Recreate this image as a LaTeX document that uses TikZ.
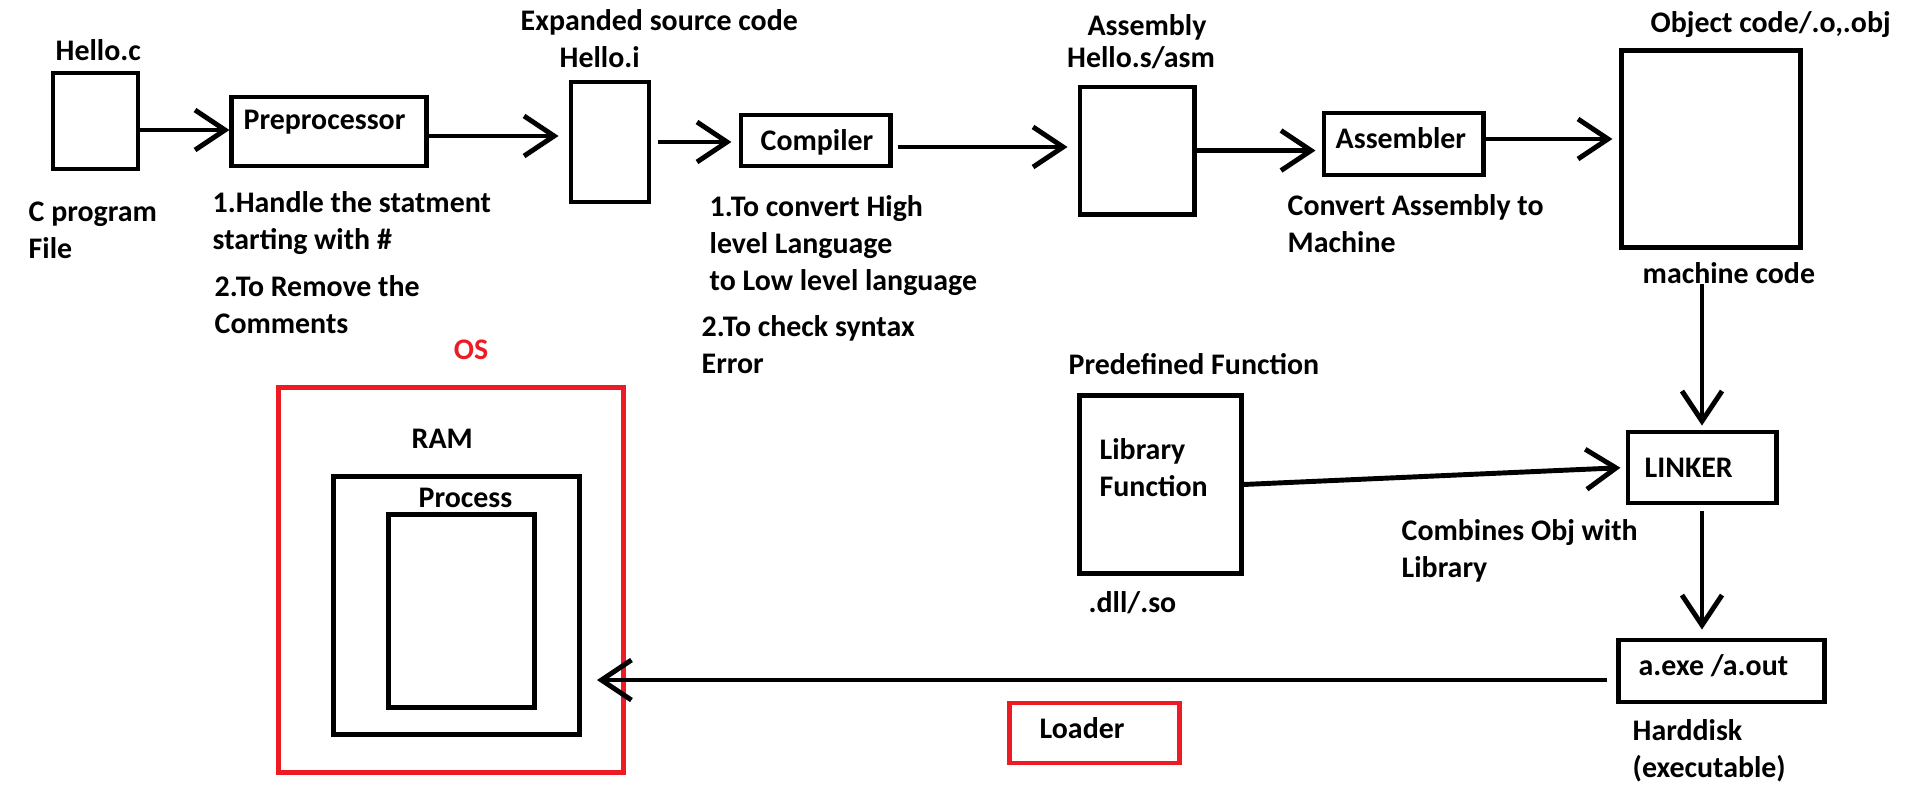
\documentclass[tikz,border=0pt]{standalone}
\usepackage{fontspec}
\setmainfont{Carlito}
\usetikzlibrary{arrows.meta}
\definecolor{paintred}{RGB}{237,28,36}

\begin{document}
\begin{tikzpicture}[x=0.01cm,y=-0.01cm,
    box/.style={draw,line width=1.4pt,inner sep=0pt},
    redbox/.style={box,draw=paintred},
    txt/.style={font=\fontsize{8.5}{10.5}\selectfont\bfseries,inner sep=0pt,anchor=west,align=left},
    arr/.style={line width=1.4pt,-{Straight Barb[length=3mm,width=4mm]}}]
  \useasboundingbox (0,0) rectangle (1914,809);
  % boxes
  \node[box,minimum width=0.85cm,minimum height=0.96cm] (hc) at (95.5,121) {};
  \node[box,minimum width=1.94cm,minimum height=0.69cm] (pre) at (329,131.5) {};
  \node[box,minimum width=0.78cm,minimum height=1.20cm] (hi) at (610,142) {};
  \node[box,minimum width=1.49cm,minimum height=0.51cm] (comp) at (815.5,140.5) {};
  \node[box,minimum width=1.14cm,minimum height=1.27cm] (asm) at (1137,150.5) {};
  \node[box,minimum width=1.59cm,minimum height=0.62cm] (asmr) at (1403.5,144) {};
  \node[box,minimum width=1.78cm,minimum height=1.96cm] (obj) at (1711,149) {};
  \node[redbox,minimum width=3.44cm,minimum height=3.84cm] (os) at (451,580) {};
  \node[box,minimum width=2.45cm,minimum height=2.57cm] (ram) at (456.5,605.5) {};
  \node[box,minimum width=1.45cm,minimum height=1.92cm] (proc) at (461.5,611) {};
  \node[box,minimum width=1.61cm,minimum height=1.77cm] (lib) at (1160.5,484.5) {};
  \node[box,minimum width=1.48cm,minimum height=0.71cm] (lnk) at (1702,467.5) {};
  \node[box,minimum width=2.05cm,minimum height=0.62cm] (exe) at (1721.5,671) {};
  \node[redbox,minimum width=1.69cm,minimum height=0.60cm] (ldr) at (1094.5,733) {};
  % texts
  \node[txt] (hcname) at (55,50) {Hello.c};
  \node[txt] (hcnote) at (28,230) {C program\\File};
  \node[txt] (pretext) at (243,122) {Preprocessor};
  \node[txt] (prenote1) at (212,223) {1.Handle the statment\\starting with \#};
  \node[txt] (prenote2) at (214,305) {2.To Remove the\\Comments};
  \node[txt] (hiname1) at (520,22) {Expanded source code};
  \node[txt] (hiname2) at (559,57) {Hello.i};
  \node[txt] (comptext) at (760,142) {Compiler};
  \node[txt] (compnote1) at (709,245.5) {1.To convert High\\level Language\\to Low level language};
  \node[txt] (compnote2) at (701,345) {2.To check syntax\\Error};
  \node[txt,anchor=center] (asmname1) at (1147,27) {Assembly};
  \node[txt,anchor=center] (asmname2) at (1141,58) {Hello.s/asm};
  \node[txt] (asmrtext) at (1335,138) {Assembler};
  \node[txt] (asmrnote) at (1287,223.5) {Convert Assembly to\\Machine};
  \node[txt] (objname) at (1650,25) {Object code/.o,.obj};
  \node[txt] (mc) at (1642,273) {machine code};
  \node[txt,anchor=center,text=paintred] (osname) at (471,350) {OS};
  \node[txt] (ramname) at (411,439) {RAM};
  \node[txt] (procname) at (418,498) {Process};
  \node[txt] (libname) at (1068,364) {Predefined Function};
  \node[txt] (libtext) at (1099,467.5) {Library\\Function};
  \node[txt] (libext) at (1088,603) {.dll/.so};
  \node[txt] (lnktext) at (1644,468) {LINKER};
  \node[txt] (lnknote) at (1401,551) {Combines Obj with\\Library};
  \node[txt] (exetext) at (1638,666) {a.exe /a.out};
  \node[txt] (ldrtext) at (1039,728) {Loader};
  \node[txt] (exenote) at (1632,750.5) {Harddisk\\(executable)};
  % arrows
  \coordinate (ldtip) at (597,680);
  \draw[arr] (hc.east |- 0,130) -- (pre.west |- 0,130);
  \draw[arr,shorten >=0.1cm] (pre.east |- 0,136) -- (hi.west |- 0,136);
  \draw[arr,shorten <=0.07cm,shorten >=0.07cm] (hi.east) -- (comp.west |- hi.east);
  \draw[arr,shorten <=0.05cm,shorten >=0.1cm] (comp.east |- 0,147) -- (asm.west |- 0,147);
  \draw[arr,shorten >=0.06cm] (asm.east) -- (asmr.west |- asm.east);
  \draw[arr,shorten >=0.07cm] (asmr.east |- 0,139) -- (obj.west |- 0,139);
  \draw[arr,shorten >=0.04cm] (lnk.north |- mc.south) -- (lnk.north);
  \draw[arr,shorten >=0.05cm] (lib.east) -- (lnk.west);
  \draw[arr,shorten <=0.06cm,shorten >=0.08cm] (lnk.south) -- (lnk.south |- exe.north);
  \draw[arr,shorten <=0.09cm] (exe.west |- ldtip) -- (ldtip);
\end{tikzpicture}
\end{document}
